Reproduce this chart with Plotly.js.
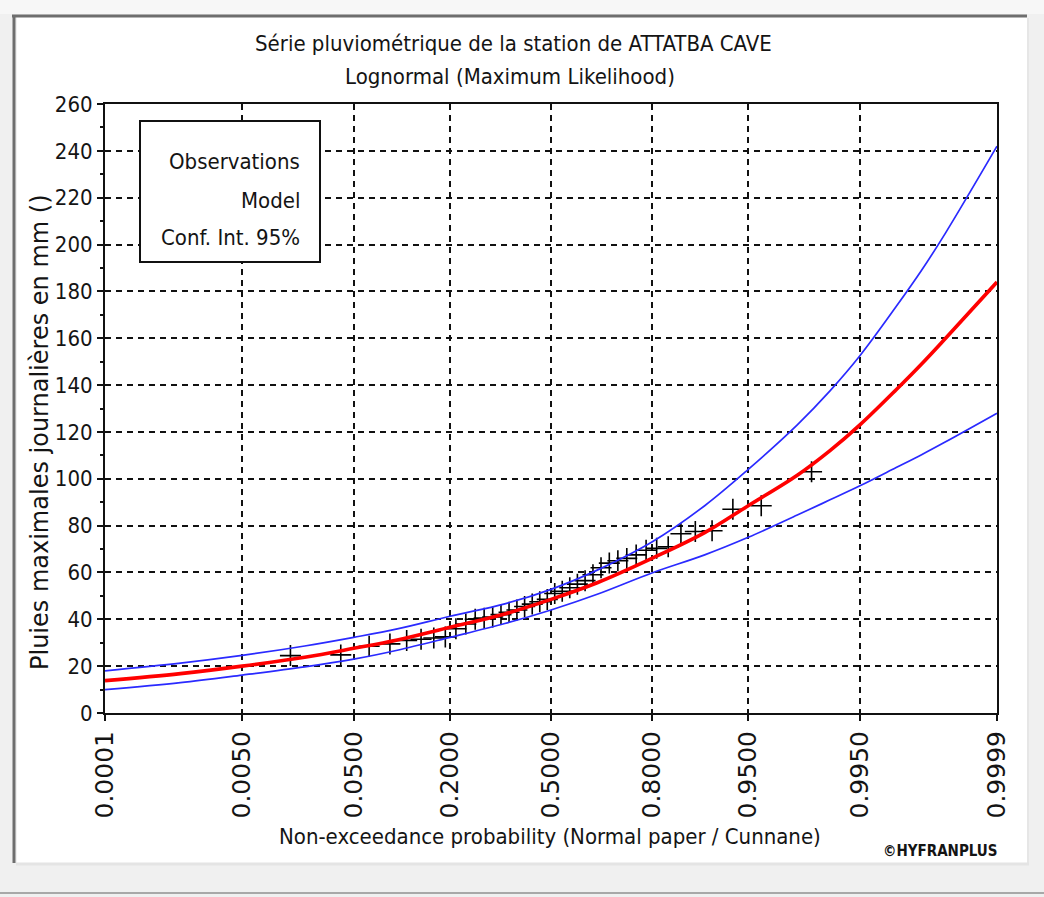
<!DOCTYPE html>
<html>
<head>
<meta charset="utf-8">
<script src="https://cdn.plot.ly/plotly-3.0.1.min.js"></script>
<style>html,body{margin:0;padding:0;background:#f0f0f0;}#chart{width:1044px;height:897px;}</style>
</head>
<body>
<div id="chart"></div>
<script>
// ---------- data ----------
const tickProbs = [0.0001, 0.005, 0.05, 0.2, 0.5, 0.8, 0.95, 0.995, 0.9999];
const tickLabels = ['0.0001', '0.0050', '0.0500', '0.2000', '0.5000', '0.8000', '0.9500', '0.9950', '0.9999'];
const yTickVals = [0, 20, 40, 60, 80, 100, 120, 140, 160, 180, 200, 220, 240, 260];

const curveProbs = [0.0001, 0.001, 0.005, 0.02, 0.05, 0.1, 0.2, 0.35, 0.5, 0.65, 0.8, 0.9, 0.95, 0.98, 0.99, 0.995, 0.998, 0.999, 0.9995, 0.9999];
const modelValues = [13.8, 16.8, 20, 23.8, 27.6, 31.2, 36.6, 42.3, 48.5, 55.6, 66, 77, 88.5, 101.5, 112, 123, 138, 149, 160, 184];
const upperValues = [18, 21.3, 24.6, 28.6, 32.3, 35.9, 41.3, 46.6, 52.8, 61, 73, 88.5, 104, 123, 137.5, 152.5, 173.5, 189, 205, 242];
const lowerValues = [10, 13, 16.2, 19.7, 23, 26.8, 32.3, 38.2, 44, 50.7, 59.8, 67.5, 75, 84.5, 91, 97, 104.8, 110.3, 115.8, 128];

const obsProbs = [0.0149, 0.0398, 0.0647, 0.0896, 0.1144, 0.1393, 0.1642, 0.1891, 0.2139, 0.2388,
                  0.2637, 0.2886, 0.3134, 0.3383, 0.3632, 0.3881, 0.4129, 0.4378, 0.4627, 0.4876,
                  0.5124, 0.5373, 0.5622, 0.5871, 0.6119, 0.6368, 0.6617, 0.6866, 0.7114, 0.7363,
                  0.7612, 0.7861, 0.8109, 0.8358, 0.8607, 0.8856, 0.9104, 0.9353, 0.9602, 0.9851];
const obsValues = [24.5, 24.8, 28.5, 29.5, 31, 31.5, 32, 32.5, 36, 38,
                   40, 40.5, 41, 42, 43, 44, 45.5, 46.5, 47.5, 48.5,
                   51, 52, 53.5, 55, 56.5, 59, 62, 64, 65, 66,
                   67.5, 69.5, 70.3, 71, 76.5, 77.5, 77.8, 87, 88.5, 103];

const titleLine1 = 'Série pluviométrique de la station de ATTATBA CAVE';
const titleLine2 = 'Lognormal (Maximum Likelihood)';
const xTitle = 'Non-exceedance probability (Normal paper / Cunnane)';
const yTitle = 'Pluies maximales journalières en mm ()';
const legendLabels = ['Observations', 'Model', 'Conf. Int. 95%'];
const credit = '©HYFRANPLUS';

// ---------- normal-probability axis transform ----------
function probit(p) {
  const a = [-3.969683028665376e+01, 2.209460984245205e+02, -2.759285104469687e+02, 1.383577518672690e+02, -3.066479806614716e+01, 2.506628277459239e+00];
  const b = [-5.447609879822406e+01, 1.615858368580409e+02, -1.556989798598866e+02, 6.680131188771972e+01, -1.328068155288572e+01];
  const c = [-7.784894002430293e-03, -3.223964580411365e-01, -2.400758277161838e+00, -2.549732539343734e+00, 4.374664141464968e+00, 2.938163982698783e+00];
  const d = [7.784695709041462e-03, 3.224671290700398e-01, 2.445134137142996e+00, 3.754408661907416e+00];
  const pl = 0.02425, ph = 1 - pl;
  let q, r;
  if (p < pl) {
    q = Math.sqrt(-2 * Math.log(p));
    return (((((c[0]*q+c[1])*q+c[2])*q+c[3])*q+c[4])*q+c[5]) / ((((d[0]*q+d[1])*q+d[2])*q+d[3])*q+1);
  } else if (p <= ph) {
    q = p - 0.5; r = q * q;
    return (((((a[0]*r+a[1])*r+a[2])*r+a[3])*r+a[4])*r+a[5])*q / (((((b[0]*r+b[1])*r+b[2])*r+b[3])*r+b[4])*r+1);
  } else {
    q = Math.sqrt(-2 * Math.log(1 - p));
    return -(((((c[0]*q+c[1])*q+c[2])*q+c[3])*q+c[4])*q+c[5]) / ((((d[0]*q+d[1])*q+d[2])*q+d[3])*q+1);
  }
}

// ---------- layout geometry ----------
const W = 1044, H = 897, L = 105, R = 997, T = 104, B = 713;
const px = x => (x - L) / (R - L);
const py = y => (B - y) / (B - T);

const NARROW = "'Liberation Sans Narrow', 'DejaVu Sans Condensed', 'Arial Narrow', sans-serif";
const WIDE = "'DejaVu Sans', Arial, sans-serif";
const INK = '#141414';

const traces = [
  {
    x: obsProbs.map(probit), y: obsValues, type: 'scatter', mode: 'markers', name: legendLabels[0],
    marker: {symbol: 'cross-thin', size: 15, line: {color: '#000', width: 1.6}}
  },
  {
    x: curveProbs.map(probit), y: upperValues, type: 'scatter', mode: 'lines', name: legendLabels[2],
    line: {color: '#2a2aff', width: 1.7, shape: 'spline', smoothing: 1}
  },
  {
    x: curveProbs.map(probit), y: lowerValues, type: 'scatter', mode: 'lines', name: legendLabels[2],
    line: {color: '#2a2aff', width: 1.7, shape: 'spline', smoothing: 1}
  },
  {
    x: curveProbs.map(probit), y: modelValues, type: 'scatter', mode: 'lines', name: legendLabels[1],
    line: {color: '#ff0000', width: 3.6, shape: 'spline', smoothing: 1}
  }
];

const shapes = [
  // window panel
  {type: 'rect', xref: 'paper', yref: 'paper', x0: px(0), x1: px(W), y0: py(14), y1: py(0), fillcolor: '#f7f7f7', line: {width: 0}, layer: 'below'},
  {type: 'rect', xref: 'paper', yref: 'paper', x0: px(17), x1: px(1027), y0: py(863), y1: py(16), fillcolor: '#ffffff', line: {width: 0}, layer: 'below'},
  {type: 'line', xref: 'paper', yref: 'paper', x0: px(12), x1: px(1027), y0: py(16), y1: py(16), line: {color: '#6e6e6e', width: 3}, layer: 'below'},
  {type: 'line', xref: 'paper', yref: 'paper', x0: px(14), x1: px(14), y0: py(863), y1: py(15), line: {color: '#6e6e6e', width: 3}, layer: 'below'},
  {type: 'line', xref: 'paper', yref: 'paper', x0: px(1028), x1: px(1028), y0: py(863), y1: py(18), line: {color: '#e6e6e6', width: 2}, layer: 'below'},
  {type: 'line', xref: 'paper', yref: 'paper', x0: px(16), x1: px(1029), y0: py(864), y1: py(864), line: {color: '#e4e4e4', width: 3}, layer: 'below'},
  {type: 'line', xref: 'paper', yref: 'paper', x0: px(0), x1: px(W), y0: py(893), y1: py(893), line: {color: '#a8a8a8', width: 2}, layer: 'below'},
  // legend box
  {type: 'rect', xref: 'paper', yref: 'paper', x0: px(140), x1: px(320), y0: py(262), y1: py(121), fillcolor: '#ffffff', line: {color: '#111', width: 2}, layer: 'above'}
];

const ann = (text, x, y, opts) => Object.assign({
  text: text, xref: 'paper', yref: 'paper', x: px(x), y: py(y), showarrow: false,
  xanchor: 'center', yanchor: 'middle', font: {family: NARROW, size: 22, color: INK}
}, opts || {});

const annotations = [
  ann(titleLine1, 513, 43),
  ann(titleLine2, 510, 77),
  ann(legendLabels[0], 302, 161, {xanchor: 'right'}),
  ann(legendLabels[1], 302, 200, {xanchor: 'right'}),
  ann(legendLabels[2], 302, 238, {xanchor: 'right'}),
  ann(xTitle, 550, 836),
  ann(yTitle, 40, 432, {textangle: -90, font: {family: WIDE, size: 24, color: INK}}),
  ann(credit, 940, 851, {font: {family: NARROW, size: 15, color: INK, weight: 'bold'}})
];

const layout = {
  width: W, height: H,
  margin: {l: L, r: W - R, t: T, b: H - B, pad: 0},
  paper_bgcolor: '#f0f0f0', plot_bgcolor: '#ffffff',
  showlegend: false,
  xaxis: {
    range: [probit(tickProbs[0]), probit(tickProbs[tickProbs.length - 1])],
    tickmode: 'array', tickvals: tickProbs.map(probit), ticktext: tickLabels,
    tickangle: -90, ticks: 'outside', ticklen: 6, tickwidth: 2, tickcolor: '#111',
    tickfont: {family: WIDE, size: 25, color: INK},
    showgrid: true, gridcolor: '#111', gridwidth: 2, griddash: '6px,5px',
    showline: true, linecolor: '#111', linewidth: 2, mirror: true, zeroline: false, fixedrange: true
  },
  yaxis: {
    range: [0, 260], tickmode: 'array', tickvals: yTickVals,
    ticks: 'outside', ticklen: 6, tickwidth: 2, tickcolor: '#111',
    tickfont: {family: NARROW, size: 22, color: INK},
    minor: {dtick: 10, ticks: 'outside', ticklen: 3, tickwidth: 2, tickcolor: '#111', showgrid: false},
    showgrid: true, gridcolor: '#111', gridwidth: 2, griddash: '6px,5px',
    showline: true, linecolor: '#111', linewidth: 2, mirror: true, zeroline: false, fixedrange: true
  },
  shapes: shapes,
  annotations: annotations
};

Plotly.newPlot('chart', traces, layout, {displayModeBar: false, staticPlot: true});
</script>
</body>
</html>
